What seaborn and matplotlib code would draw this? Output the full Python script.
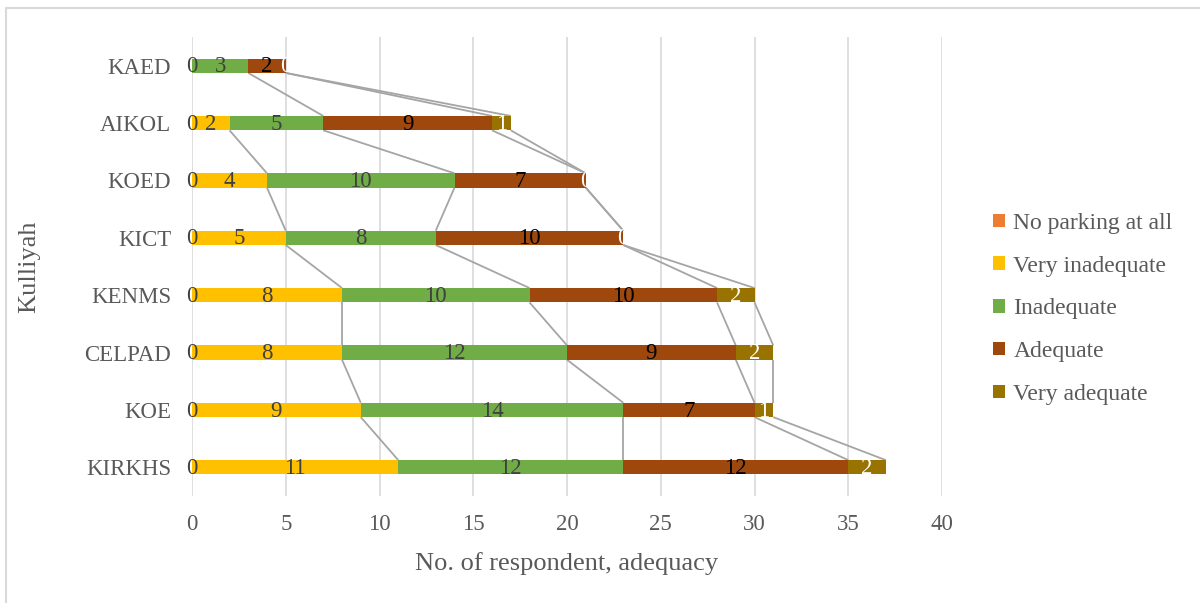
import numpy as np
import pandas as pd
import matplotlib
matplotlib.use("Agg")
import matplotlib.pyplot as plt
from matplotlib.lines import Line2D
from matplotlib.patches import Patch
import seaborn as sns

kulliyah = ["KAED", "AIKOL", "KOED", "KICT", "KENMS", "CELPAD", "KOE", "KIRKHS"]
series = ["No parking at all", "Very inadequate", "Inadequate", "Adequate", "Very adequate"]

no_parking = [0, 0, 0, 0, 0, 0, 0, 0]
very_inadequate = [np.nan, 2, 4, 5, 8, 8, 9, 11]
inadequate = [3, 5, 10, 8, 10, 12, 14, 12]
adequate = [2, 9, 7, 10, 10, 9, 7, 12]
very_adequate = [0, 1, 0, 0, 2, 2, 1, 2]

colors = ["#ED7D31", "#FFC000", "#70AD47", "#9E480E", "#997300"]
label_colors = ["#404040", "#404040", "#404040", "#000000", "#FFFFFF"]

values = pd.DataFrame(
    {s: v for s, v in zip(series, [no_parking, very_inadequate, inadequate,
                                   adequate, very_adequate])},
    index=kulliyah,
)
cum = values.fillna(0).cumsum(axis=1)
start = cum - values.fillna(0)

sns.set_theme(style="white")
plt.rcParams["font.family"] = ["Liberation Serif", "DejaVu Serif"]

fig = plt.figure(figsize=(12, 6.03), dpi=100)
ax = fig.add_axes([0.16, 0.1775, 0.625, 0.761])

bar_w = 0.25
# stacked bars: draw cumulative totals from the last series back to the first
for s, c in reversed(list(zip(series, colors))):
    df = pd.DataFrame({"kulliyah": kulliyah, "value": cum[s].values})
    sns.barplot(data=df, x="value", y="kulliyah", orient="h", color=c,
                width=bar_w, ax=ax, linewidth=0, saturation=1, zorder=3)

# series lines joining segment ends of neighbouring bars
for s in series[1:]:
    for k in range(len(kulliyah) - 1):
        if np.isnan(values[s].iloc[k]) or np.isnan(values[s].iloc[k + 1]):
            continue
        ax.plot([cum[s].iloc[k], cum[s].iloc[k + 1]],
                [k + bar_w / 2, k + 1 - bar_w / 2],
                color="#A5A5A5", lw=1.3, zorder=2, solid_capstyle="butt")

# value labels centred on each segment
for s, lc in zip(series, label_colors):
    for k, name in enumerate(kulliyah):
        v = values[s].iloc[k]
        if np.isnan(v):
            continue
        xc = start[s].iloc[k] + v / 2
        ax.text(xc, k + 0.02, f"{int(v)}", ha="center", va="center",
                fontsize=16.5, color=lc, zorder=5)

ax.set_xlim(0, 40)
ax.set_ylim(len(kulliyah) - 0.5, -0.5)
ax.set_xticks(range(0, 41, 5))
ax.xaxis.grid(True, color="#D9D9D9", lw=1.2, zorder=0)
ax.set_axisbelow(True)
for sp in ax.spines.values():
    sp.set_visible(False)
ax.tick_params(axis="both", length=0, labelsize=16.5, labelcolor="#595959")
ax.tick_params(axis="x", pad=13)
ax.tick_params(axis="y", pad=15)
ax.set_xlabel("No. of respondent, adequacy", fontsize=19, color="#595959",
              labelpad=12)
ax.set_ylabel("Kulliyah", fontsize=19, color="#595959", labelpad=32)

handles = [Patch(facecolor=c, edgecolor="none") for c in colors]
fig.legend(handles, series, loc="center left", bbox_to_anchor=(0.81, 0.488),
           frameon=False, fontsize=17, labelcolor="#595959",
           handlelength=0.5, handleheight=0.5, handletextpad=0.35,
           labelspacing=0.92)

# chart frame
fig.add_artist(Line2D([0.005, 0.005], [0, 0.987], transform=fig.transFigure,
                      color="#D9D9D9", lw=1.5))
fig.add_artist(Line2D([0.005, 1], [0.987, 0.987], transform=fig.transFigure,
                      color="#D9D9D9", lw=1.5))

fig.savefig("out.png", dpi=100)
